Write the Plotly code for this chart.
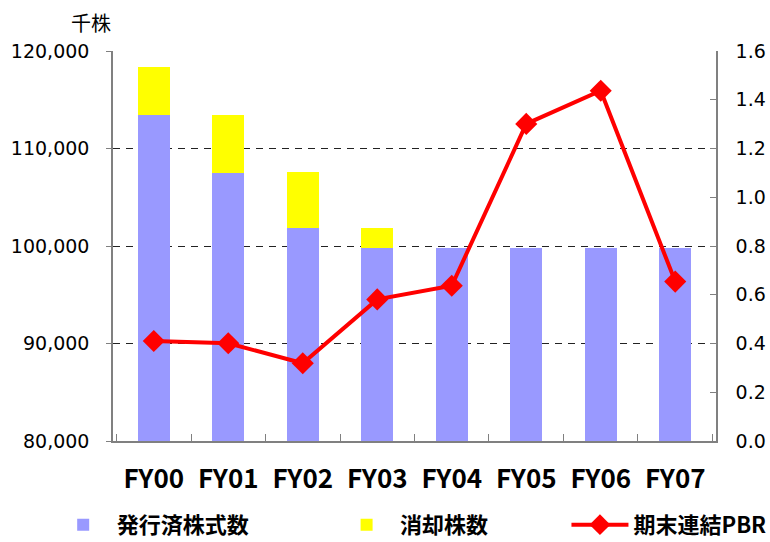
import plotly.graph_objects as go

categories = ["FY00", "FY01", "FY02", "FY03", "FY04", "FY05", "FY06", "FY07"]
issued_shares = [113450, 107500, 101850, 99800, 99800, 99800, 99800, 99800]
retired_shares = [4900, 5950, 5750, 2050, 0, 0, 0, 0]
pbr = [0.410, 0.401, 0.319, 0.581, 0.637, 1.301, 1.437, 0.654]

left_ticks = [80000, 90000, 100000, 110000, 120000]
right_ticks = [0.0, 0.2, 0.4, 0.6, 0.8, 1.0, 1.2, 1.4, 1.6]

FONT = "Noto Sans CJK JP"
NUMFONT = "DejaVu Sans"

fig = go.Figure()
fig.add_trace(go.Bar(x=categories, y=issued_shares, name="発行済株式数",
                     marker=dict(color="#9999FF", line=dict(width=0)), legend="legend"))
fig.add_trace(go.Bar(x=categories, y=retired_shares, name="消却株数",
                     marker=dict(color="#FFFF00", line=dict(width=0)), legend="legend2"))
fig.add_trace(go.Scatter(x=categories, y=pbr, name="期末連結PBR", yaxis="y2",
                         mode="lines+markers",
                         line=dict(color="#FF0000", width=4),
                         marker=dict(symbol="diamond", size=17, color="#FF0000"),
                         legend="legend3"))

legend_common = dict(orientation="h", yanchor="middle", y=-0.215, xanchor="left",
                     font=dict(family=FONT, size=22, color="#000", weight="bold"),
                     bgcolor="rgba(0,0,0,0)", itemwidth=57)

fig.update_layout(
    width=770, height=542,
    margin=dict(l=113, r=54, t=51, b=101, autoexpand=False),
    paper_bgcolor="white", plot_bgcolor="white",
    barmode="stack", bargap=0.57,
    font=dict(family=FONT, color="#000"),
    showlegend=True,
    legend=dict(**legend_common, x=-0.105),
    legend2=dict(**legend_common, x=0.365),
    legend3=dict(**legend_common, x=0.752),
    xaxis=dict(type="category", showline=True, linecolor="#808080", linewidth=1.5,
               ticks="inside", ticklen=7, tickcolor="#808080", tickson="boundaries",
               tickfont=dict(family=FONT, size=26, color="#000", weight="bold"),
               ticklabelstandoff=14),
    yaxis=dict(range=[80000, 120000], tickvals=left_ticks, tickformat=",",
               showline=True, linecolor="#808080", linewidth=1.5,
               ticks="outside", ticklen=5, tickcolor="#808080",
               showgrid=True, gridcolor="#222", gridwidth=1, griddash="7px,6px",
               zeroline=False,
               tickfont=dict(family=NUMFONT, size=19, color="#000"),
               ticklabelstandoff=13),
    yaxis2=dict(range=[0, 1.6], tickvals=right_ticks, tickformat=".1f",
                overlaying="y", side="right",
                showline=True, linecolor="#808080", linewidth=1.5,
                ticks="inside", ticklen=6, tickcolor="#808080",
                showgrid=False, zeroline=False,
                tickfont=dict(family=NUMFONT, size=19, color="#000"),
                ticklabelstandoff=14),
    annotations=[dict(text="千株", xref="paper", yref="paper", x=-0.036, y=1.074,
                      xanchor="center", yanchor="middle", showarrow=False,
                      font=dict(family=FONT, size=20, color="#000"))],
)

fig.write_html("out.html", config={"displayModeBar": False},
               post_script="document.body.style.margin='0px';document.body.style.overflow='hidden';")
